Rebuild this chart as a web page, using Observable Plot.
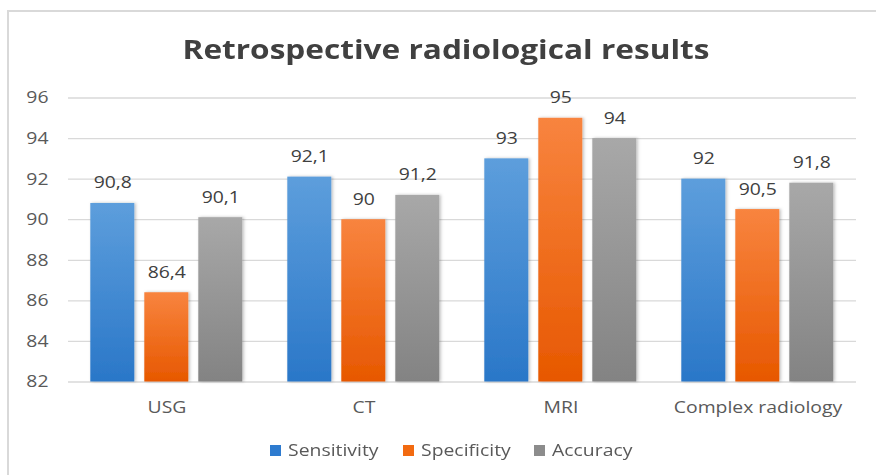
<!DOCTYPE html>
<html>
<head>
<meta charset="utf-8">
<script src="https://cdn.jsdelivr.net/npm/d3@7"></script>
<script src="https://cdn.jsdelivr.net/npm/@observablehq/plot@0.6"></script>
<style>
  body { margin: 0; background: #fff; font-family: "Open Sans", sans-serif; }
  #frame { position: relative; width: 876px; height: 475px; overflow: hidden; background: #fff; }
  #border { position: absolute; left: 7px; top: 10px; width: 890px; height: 490px; border: 2px solid #d9d9d9; box-sizing: border-box; }
  #title { position: absolute; left: 7px; width: 878px; top: 35px; text-align: center; font-weight: bold; font-size: 27px; line-height: 1; color: #404040; white-space: nowrap; transform: scaleX(1.17); transform-origin: 439px 50%; }
  #chart { position: absolute; left: 0; top: 75px; }
  #legend { position: absolute; left: 13px; width: 878px; top: 441px; display: flex; justify-content: center; font-size: 17px; line-height: 1; color: #595959; }
  .item { display: flex; align-items: center; margin: 0 12px; }
  .sw { width: 11px; height: 11px; margin-right: 7px; margin-top: 2px; }
  .lt { display: inline-block; transform: scaleX(1.14); transform-origin: 0 50%; margin-right: 11px; }
</style>
</head>
<body>
<div id="frame">
  <div id="border"></div>
  <div id="title">Retrospective radiological results</div>
  <div id="chart"></div>
  <div id="legend"></div>
</div>
<script>
const categories = ["USG", "CT", "MRI", "Complex radiology"];
const series = ["Sensitivity", "Specificity", "Accuracy"];
const sensitivity = [90.8, 92.1, 93, 92];
const specificity = [86.4, 90, 95, 90.5];
const accuracy = [90.1, 91.2, 94, 91.8];
const yTicks = [82, 84, 86, 88, 90, 92, 94, 96];

const seriesValues = [sensitivity, specificity, accuracy];
const gradientIds = ["gSens", "gSpec", "gAcc"];
const gradientStops = [["#5d9edc", "#2a77c8"], ["#f8843f", "#e75800"], ["#a8a8a8", "#838383"]];
const swatchColors = ["#2e7bcf", "#f26a10", "#8c8c8c"];

const data = categories.flatMap((c, i) =>
  series.map((s, j) => ({category: c, series: s, value: seriesValues[j][i]}))
);

const chart = Plot.plot({
  width: 876,
  height: 355,
  marginTop: 22.5,
  marginBottom: 48.5,
  marginLeft: 66.7,
  marginRight: 19.3,
  style: {fontFamily: "'Open Sans', sans-serif", fontSize: "17px", color: "#595959", background: "transparent", overflow: "visible"},
  fx: {domain: categories, padding: 0, axis: "bottom", tickSize: 0, tickPadding: 19, label: null},
  x: {domain: series, paddingInner: 0.185, paddingOuter: 0.41, axis: null},
  y: {domain: [82, 96], axis: null},
  marks: [
    Plot.gridY(yTicks, {stroke: "#d9d9d9", strokeOpacity: 1, strokeWidth: 1.3}),
    Plot.axisY(yTicks, {tickSize: 0, tickPadding: 20, tickFormat: d => String(d), label: null}),
    ...series.map((s, j) =>
      Plot.barY(data.filter(d => d.series === s), {
        fx: "category", x: "series", y1: 82, y2: "value", fill: `url(#${gradientIds[j]})`
      })
    ),
    Plot.text(data, {
      fx: "category", x: "series", y: "value",
      text: d => String(d.value).replace(".", ","),
      lineAnchor: "bottom", dy: -15, fill: "#404040", fontSize: 17
    })
  ]
});

const defs = d3.select(chart).insert("defs", ":first-child");
gradientIds.forEach((id, j) => {
  const g = defs.append("linearGradient").attr("id", id)
    .attr("x1", 0).attr("y1", 0).attr("x2", 0).attr("y2", 1);
  g.append("stop").attr("offset", "0%").attr("stop-color", gradientStops[j][0]);
  g.append("stop").attr("offset", "100%").attr("stop-color", gradientStops[j][1]);
});
const f = defs.append("filter").attr("id", "shadow").attr("x", "-20%").attr("y", "-10%").attr("width", "140%").attr("height", "120%");
f.append("feDropShadow").attr("dx", 1.5).attr("dy", 0).attr("stdDeviation", 1.5).attr("flood-color", "#000").attr("flood-opacity", 0.25);
d3.select(chart).selectAll("g[aria-label='bar'] rect").attr("filter", "url(#shadow)");

// horizontally stretch text glyphs like the reference
d3.select(chart).selectAll("text").each(function () {
  const t = this.getAttribute("transform");
  if (t) this.setAttribute("transform", t + " scale(1.14,1)");
});

document.getElementById("chart").appendChild(chart);

const legend = document.getElementById("legend");
series.forEach((s, j) => {
  const item = document.createElement("div");
  item.className = "item";
  const sw = document.createElement("span");
  sw.className = "sw";
  sw.style.background = swatchColors[j];
  const t = document.createElement("span");
  t.className = "lt";
  t.textContent = s;
  item.appendChild(sw);
  item.appendChild(t);
  legend.appendChild(item);
});
</script>
</body>
</html>
